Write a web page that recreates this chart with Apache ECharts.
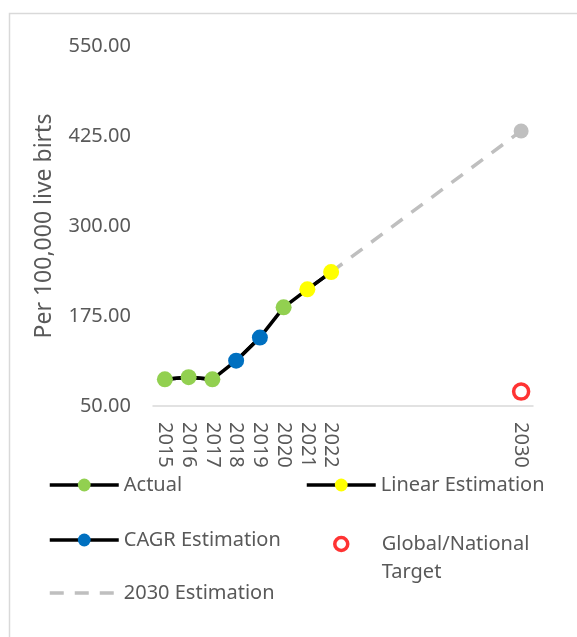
<!DOCTYPE html>
<html>
<head>
<meta charset="utf-8">
<script src="https://cdn.jsdelivr.net/npm/echarts@6/dist/echarts.min.js"></script>
<style>html,body{margin:0;padding:0;background:#fff}#c{width:577px;height:637px}</style>
</head>
<body>
<div id="c"></div>
<script>
var years = ['2015','2016','2017','2018','2019','2020','2021','2022','2023','2024','2025','2026','2027','2028','2029','2030'];
var shownYears = ['2015','2016','2017','2018','2019','2020','2021','2022','2030'];
var allValues = [87, 90, 87, 113, 145, 187, 212, 236, null, null, null, null, null, null, null, null];
var actual    = [87, 90, 87, null, null, 187, null, null, null, null, null, null, null, null, null, null];
var cagr      = [null, null, null, 113, 145, null, null, null, null, null, null, null, null, null, null, null];
var linear    = [null, null, null, null, null, null, 212, 236, null, null, null, null, null, null, null, null];
var est2030   = [null, null, null, null, null, null, null, 236, null, null, null, null, null, null, null, 432];
var target    = [null, null, null, null, null, null, null, null, null, null, null, null, null, null, null, 70];
var yTicks = [50, 175, 300, 425, 550];

var FONT = 'Noto Sans';
var TXT = '#595959';
var chart = echarts.init(document.getElementById('c'));

function legendAt(name, left, top, extra) {
  var l = {
    data: [name], left: left, top: top, itemWidth: 69, itemHeight: 16, itemGap: 0,
    textStyle: {fontFamily: FONT, fontSize: 20, color: TXT},
    lineStyle: {width: 3.5},
    selectedMode: false
  };
  if (extra) for (var k in extra) l[k] = extra[k];
  return l;
}

var option = {
  backgroundColor: '#fff',
  animation: false,
  graphic: [{
    type: 'rect', shape: {x: 9.5, y: 13.5, width: 700, height: 700},
    style: {fill: 'none', stroke: '#d9d9d9', lineWidth: 1.5}, silent: true, z: -1
  }],
  grid: {left: 153, right: 44, top: 46, bottom: 231},
  legend: [
    legendAt('Actual', 43, 470),
    legendAt('Linear Estimation', 300, 470),
    legendAt('CAGR Estimation', 43, 525),
    legendAt('Global/National Target', 328, 497, {
      itemWidth: 13, itemHeight: 13,
      itemStyle: {color: '#fff', borderColor: '#ff0000', borderWidth: 3.5},
      formatter: function () { return ' \nGlobal/National\nTarget'; },
      textStyle: {fontFamily: FONT, fontSize: 20, color: TXT, lineHeight: 28, padding: [0, 0, 0, 29]}
    }),
    legendAt('2030 Estimation', 43, 578, {
      itemStyle: {opacity: 0},
      lineStyle: {width: 3.5, type: [14, 11], color: '#bfbfbf'}
    })
  ],
  xAxis: {
    type: 'category', data: years, boundaryGap: true,
    axisLine: {show: true, lineStyle: {color: '#d9d9d9', width: 1.5}},
    axisTick: {show: false},
    axisLabel: {
      interval: 0, rotate: -90, margin: 16, fontFamily: FONT, fontSize: 20, color: TXT,
      formatter: function (v) { return shownYears.indexOf(v) >= 0 ? v : ''; }
    }
  },
  yAxis: {
    type: 'value', min: yTicks[0], max: yTicks[yTicks.length - 1], interval: 125,
    name: 'Per 100,000 live birts', nameLocation: 'middle', nameGap: 97, nameRotate: 90,
    nameTextStyle: {fontFamily: FONT, fontSize: 23, color: TXT},
    axisLine: {show: false}, axisTick: {show: false}, splitLine: {show: false},
    axisLabel: {margin: 22, fontFamily: FONT, fontSize: 20, color: TXT,
      formatter: function (v) { return v.toFixed(2); }}
  },
  series: [
    {name: 'connector', type: 'line', data: allValues, symbol: 'none',
      lineStyle: {color: '#000', width: 3.5}, z: 2},
    {name: '2030 Estimation', type: 'line', connectNulls: true,
      data: est2030.map(function (v, i) {
        return (i === est2030.length - 1 && v != null) ? {value: v, symbol: 'circle', symbolSize: 15} : v;
      }),
      symbol: 'none', color: '#bfbfbf',
      itemStyle: {color: '#bfbfbf'},
      lineStyle: {color: '#bfbfbf', width: 3.5, type: [14, 11]}, z: 3},
    {name: 'Actual', type: 'line', data: actual, symbol: 'circle', symbolSize: 16,
      color: '#92d050', itemStyle: {color: '#92d050'},
      lineStyle: {color: '#000', width: 3.5}, z: 4},
    {name: 'CAGR Estimation', type: 'line', data: cagr, symbol: 'circle', symbolSize: 16,
      color: '#0070c0', itemStyle: {color: '#0070c0'},
      lineStyle: {color: '#000', width: 3.5}, z: 4},
    {name: 'Linear Estimation', type: 'line', data: linear, symbol: 'circle', symbolSize: 16,
      color: '#ffff00', itemStyle: {color: '#ffff00'},
      lineStyle: {color: '#000', width: 3.5}, z: 4},
    {name: 'Global/National Target', type: 'scatter', data: target, symbol: 'circle', symbolSize: 15,
      itemStyle: {color: '#fff', borderColor: '#ff0000', borderWidth: 3.5}, z: 5}
  ]
};
chart.setOption(option);
</script>
</body>
</html>
